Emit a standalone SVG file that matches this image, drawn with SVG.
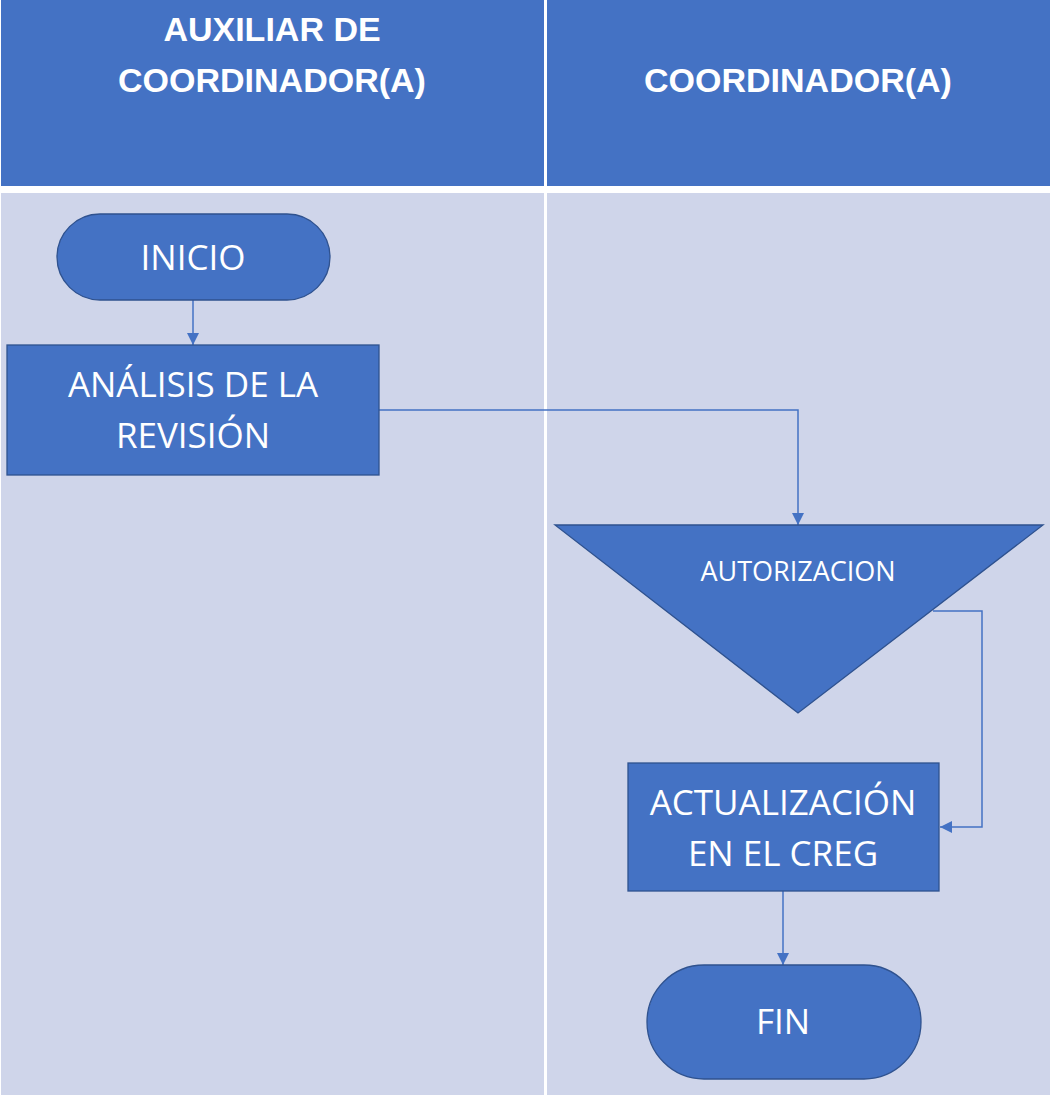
<svg xmlns="http://www.w3.org/2000/svg" width="1050" height="1095" viewBox="0 0 1050 1095">
<style>
.hdr{fill:#4472C4}
.lane{fill:#CFD5EA}
.node{fill:#4472C4;stroke:#2F528F;stroke-width:1.3}
.ht{font-family:"Liberation Sans",Arial,sans-serif;font-weight:bold;font-size:34px;fill:#fff;text-anchor:middle}
.nt{font-family:"Open Sans","Liberation Sans",sans-serif;font-size:35px;fill:#fff;text-anchor:middle}
.st{font-family:"Open Sans","Liberation Sans",sans-serif;font-size:27px;fill:#fff;text-anchor:middle}
.conn{fill:none;stroke:#4472C4;stroke-width:1.5}
</style>
<defs>
<marker id="arrow" viewBox="0 0 12 12" refX="12" refY="6" markerWidth="12" markerHeight="12" orient="auto" markerUnits="userSpaceOnUse">
<path d="M0,0 L12,6 L0,12 z" fill="#4472C4"/>
</marker>
</defs>
<rect width="1050" height="1095" fill="#fff"/>
<g id="lanes">
<rect class="hdr" x="1" y="0" width="543" height="186"/>
<rect class="hdr" x="547" y="0" width="503" height="186"/>
<rect class="lane" x="1" y="193" width="543" height="902"/>
<rect class="lane" x="547" y="193" width="503" height="902"/>
<text class="ht" x="272" y="41">AUXILIAR DE</text>
<text class="ht" x="272" y="92">COORDINADOR(A)</text>
<text class="ht" x="798" y="92">COORDINADOR(A)</text>
</g>
<g id="connectors">
<path class="conn" d="M193,300 V345" marker-end="url(#arrow)"/>
<path class="conn" d="M379,410 H798 V525" marker-end="url(#arrow)"/>
<path class="conn" d="M933,611 H982 V827 H940" marker-end="url(#arrow)"/>
<path class="conn" d="M783,891 V965" marker-end="url(#arrow)"/>
</g>
<g id="inicio">
<rect class="node" x="57" y="214" width="273" height="86" rx="43"/>
<text class="nt" x="193" y="270">INICIO</text>
</g>
<g id="analisis">
<rect class="node" x="7" y="345" width="372" height="130"/>
<text class="nt" x="193" y="397">ANÁLISIS DE LA</text>
<text class="nt" x="193" y="448">REVISIÓN</text>
</g>
<g id="autorizacion">
<polygon class="node" points="555,525 1043,525 798,713"/>
<text class="st" x="798" y="581">AUTORIZACION</text>
</g>
<g id="actualizacion">
<rect class="node" x="628" y="763" width="311" height="128"/>
<text class="nt" x="783" y="815">ACTUALIZACIÓN</text>
<text class="nt" x="783" y="866">EN EL CREG</text>
</g>
<g id="fin">
<rect class="node" x="647" y="965" width="274" height="114" rx="57"/>
<text class="nt" x="783" y="1034">FIN</text>
</g>
</svg>
